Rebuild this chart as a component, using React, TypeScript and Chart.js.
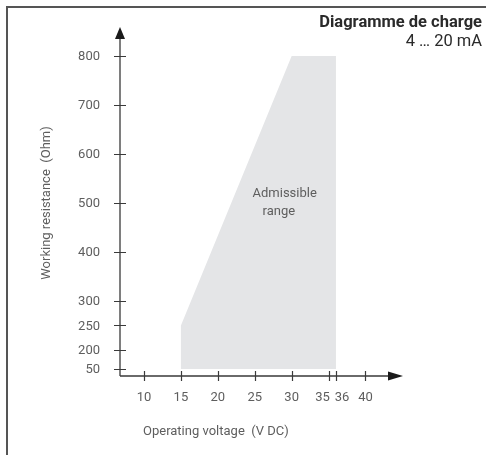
import React, { useEffect, useRef } from 'react';
import { Chart, registerables, LinearScale } from 'chart.js';

Chart.register(...registerables);

// ---- data ----
const VOLTAGE = [15, 15, 30, 36, 36];
const RESISTANCE = [50, 250, 800, 800, 50];
const X_TICKS = [10, 15, 20, 25, 30, 35, 36, 40];
const Y_TICKS = [50, 200, 250, 300, 400, 500, 600, 700, 800];
const TITLE = 'Diagramme de charge';
const SUBTITLE = '4 … 20 mA';
const X_TITLE = 'Operating voltage  (V DC)';
const Y_TITLE = 'Working resistance  (Ohm)';
const REGION_LABEL = ['Admissible', 'range'];

// ---- axis configuration ----
const X_MIN = 6.75;
const X_MAX = 45.08;
const Y_MIN = 146.9;
const Y_MAX = 859.2;
const Y_BREAK = 200;
const Y_BREAK_SCALE = 0.2586;

// region label anchor (data coords)
const LABEL_X = 24.7;
const LABEL_Y = 512;

class BrokenLinearScale extends LinearScale {
  static id = 'brokenLinear';
  static defaults = LinearScale.defaults;
  getPixelForValue(value: number, index?: number) {
    const v = value >= Y_BREAK ? value : Y_BREAK - (Y_BREAK - value) * Y_BREAK_SCALE;
    return super.getPixelForValue(v, index);
  }
}
Chart.register(BrokenLinearScale as any);

const FONT = 'Roboto, "DejaVu Sans", sans-serif';
const TEXT = '#5e5e5e';
const AXIS = '#3a3a3a';

const decorPlugin = {
  id: 'decor',
  afterDatasetsDraw(chart: any) {
    const ctx: CanvasRenderingContext2D = chart.ctx;
    const xs = chart.scales.x;
    const ys = chart.scales.y;
    const area = chart.chartArea;
    const x0 = area.left;
    const y0 = area.bottom;
    ctx.save();

    // frame
    ctx.strokeStyle = '#555';
    ctx.lineWidth = 2;
    ctx.beginPath();
    ctx.moveTo(7, chart.height);
    ctx.lineTo(7, 7);
    ctx.lineTo(chart.width, 7);
    ctx.stroke();

    // axes
    ctx.strokeStyle = AXIS;
    ctx.lineWidth = 1.3;
    ctx.beginPath();
    ctx.moveTo(x0, y0);
    ctx.lineTo(x0, area.top + 8);
    ctx.moveTo(x0, y0);
    ctx.lineTo(area.right - 8, y0);
    ctx.stroke();

    // arrows
    ctx.fillStyle = '#1a1a1a';
    ctx.beginPath();
    ctx.moveTo(x0, area.top);
    ctx.lineTo(x0 - 5, area.top + 12);
    ctx.lineTo(x0 + 5, area.top + 12);
    ctx.closePath();
    ctx.fill();
    ctx.beginPath();
    ctx.moveTo(area.right, y0);
    ctx.lineTo(area.right - 15, y0 - 4.5);
    ctx.lineTo(area.right - 15, y0 + 4.5);
    ctx.closePath();
    ctx.fill();

    // ticks
    ctx.strokeStyle = AXIS;
    ctx.lineWidth = 1.2;
    ctx.beginPath();
    Y_TICKS.forEach((v) => {
      const p = Math.round(ys.getPixelForValue(v)) + 0.5;
      ctx.moveTo(x0 - 6, p);
      ctx.lineTo(x0 + 6, p);
    });
    X_TICKS.forEach((v) => {
      const p = Math.round(xs.getPixelForValue(v)) + 0.5;
      ctx.moveTo(p, y0 - 5);
      ctx.lineTo(p, y0 + 5);
    });
    ctx.stroke();

    // tick labels
    ctx.fillStyle = TEXT;
    ctx.font = `13px ${FONT}`;
    ctx.textBaseline = 'middle';
    ctx.textAlign = 'right';
    Y_TICKS.forEach((v) => {
      ctx.fillText(String(v), x0 - 20, ys.getPixelForValue(v) + 1);
    });
    const px = X_TICKS.map((v) => xs.getPixelForValue(v));
    X_TICKS.forEach((v, i) => {
      const p = px[i];
      const closeNext = i < px.length - 1 && px[i + 1] - p < 14;
      const closePrev = i > 0 && p - px[i - 1] < 14;
      if (closeNext) {
        ctx.textAlign = 'right';
        ctx.fillText(String(v), (p + px[i + 1]) / 2 - 2.5, y0 + 22);
      } else if (closePrev) {
        ctx.textAlign = 'left';
        ctx.fillText(String(v), (p + px[i - 1]) / 2 + 2.5, y0 + 22);
      } else {
        ctx.textAlign = 'center';
        ctx.fillText(String(v), p, y0 + 22);
      }
    });

    // axis titles
    ctx.textAlign = 'left';
    ctx.fillText(X_TITLE, 143, y0 + 56);
    ctx.save();
    ctx.translate(47, 203);
    ctx.rotate(-Math.PI / 2);
    ctx.textAlign = 'center';
    ctx.fillText(Y_TITLE, 0, 0);
    ctx.restore();

    // region label
    const lx = xs.getPixelForValue(LABEL_X);
    const ly = ys.getPixelForValue(LABEL_Y);
    ctx.textBaseline = 'alphabetic';
    ctx.textAlign = 'left';
    ctx.fillText(REGION_LABEL[0], lx, ly);
    ctx.fillText(REGION_LABEL[1], lx + 10, ly + 18);

    // title
    ctx.textAlign = 'right';
    ctx.fillStyle = '#2a2a2a';
    ctx.font = `bold 16.5px ${FONT}`;
    ctx.fillText(TITLE, 482, 27);
    ctx.font = `16.5px ${FONT}`;
    ctx.fillText(SUBTITLE, 482, 45.5);

    ctx.restore();
  },
};

export default function App() {
  const ref = useRef<HTMLCanvasElement>(null);
  useEffect(() => {
    if (!ref.current) return;
    const chart = new Chart(ref.current, {
      type: 'line',
      data: {
        datasets: [
          {
            data: VOLTAGE.map((x, i) => ({ x, y: RESISTANCE[i] })),
            fill: 'shape',
            backgroundColor: '#e4e5e7',
            borderWidth: 0,
            borderColor: 'rgba(0,0,0,0)',
            pointRadius: 0,
            tension: 0,
          },
        ],
      },
      options: {
        animation: false,
        responsive: false,
        devicePixelRatio: 1,
        layout: { padding: { left: 120, top: 27, right: 83, bottom: 79 } },
        plugins: { legend: { display: false }, tooltip: { enabled: false }, title: { display: false } },
        scales: {
          x: { type: 'linear', min: X_MIN, max: X_MAX, display: false },
          y: { type: 'brokenLinear', min: Y_MIN, max: Y_MAX, display: false } as any,
        },
      },
      plugins: [decorPlugin],
    });
    return () => chart.destroy();
  }, []);
  return (
    <div style={{ position: 'absolute', left: 0, top: 0, width: 486, height: 455, background: '#fff' }}>
      <canvas ref={ref} width={486} height={455} />
    </div>
  );
}
